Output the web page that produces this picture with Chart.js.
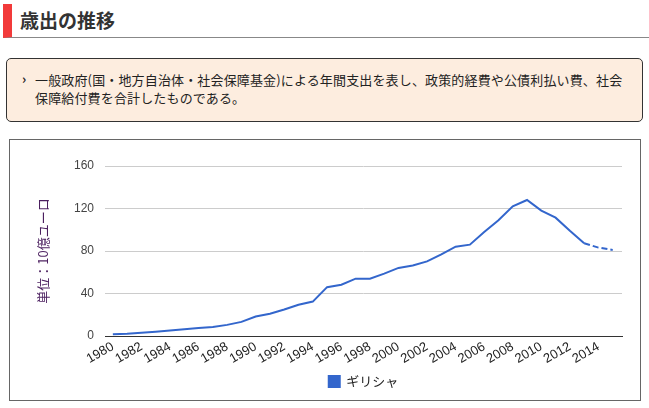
<!DOCTYPE html>
<html>
<head>
<meta charset="utf-8">
<script src="https://cdn.jsdelivr.net/npm/chart.js@4"></script>
<style>
body { margin: 0; background: #fff; font-family: "Noto Sans CJK JP", sans-serif; color: #333; }
.title { position: absolute; left: 3px; top: 4px; width: 646px; height: 34px; border-left: 9px solid #f23a3a; border-bottom: 1px solid #888; box-sizing: border-box; }
.title span { position: absolute; left: 8px; top: 2px; font-size: 19px; font-weight: bold; color: #333; }
.note { position: absolute; left: 6px; top: 58px; width: 637px; height: 64px; box-sizing: border-box; background: #fdeddf; border: 1px solid #333; border-radius: 5px; font-size: 13px; letter-spacing: 0.15px; white-space: nowrap; line-height: 18px; padding: 12px 4px 0 28px; color: #222; }
.note:before { content: "›"; position: absolute; left: 15px; top: 11px; font-weight: bold; font-size: 13px; }
.box { position: absolute; left: 9px; top: 139px; width: 632px; height: 262px; box-sizing: border-box; border: 1px solid #666; }
</style>
</head>
<body>
<div class="title"><span>歳出の推移</span></div>
<div class="note">一般政府(国・地方自治体・社会保障基金)による年間支出を表し、政策的経費や公債利払い費、社会<br>保障給付費を合計したものである。</div>
<div class="box"><canvas id="chart" width="630" height="260"></canvas></div>
<script>
var years = [1980, 1981, 1982, 1983, 1984, 1985, 1986, 1987, 1988, 1989,
	1990, 1991, 1992, 1993, 1994, 1995, 1996, 1997, 1998, 1999,
	2000, 2001, 2002, 2003, 2004, 2005, 2006, 2007, 2008, 2009,
	2010, 2011, 2012, 2013, 2014, 2015];
var spending = [1.6, 2.2, 3.2, 4.1, 5.1, 6.3, 7.6, 8.6, 10.5, 13.3,
	18.4, 21, 25, 29.5, 32.4, 46, 48.3, 54, 54, 58.7,
	64.1, 66.3, 70.2, 76.8, 84.1, 86, 98, 109, 122, 128,
	118, 111.4, 99, 87.3, 83.2, 81];
var yTicks = [0, 40, 80, 120, 160];
var xTicks = [1980, 1982, 1984, 1986, 1988, 1990, 1992, 1994, 1996, 1998,
	2000, 2002, 2004, 2006, 2008, 2010, 2012, 2014];
var estimateFrom = 2013;

var ctx = document.getElementById('chart').getContext('2d');
var chart = new Chart(ctx, {
	type: 'line',
	data: {
		datasets: [{
			label: 'ギリシャ',
			data: years.map(function (y, i) { return { x: y, y: spending[i] }; }),
			borderColor: '#3366cc',
			backgroundColor: '#3366cc',
			borderWidth: 2,
			pointRadius: 0,
			tension: 0,
			segment: {
				// estimates drawn dashed
				borderDash: function (c) { return c.p0.parsed.x >= estimateFrom ? [6, 3] : undefined; }
			}
		}]
	},
	options: {
		responsive: false,
		animation: false,
		layout: { padding: { top: 26, right: 18, left: 25, bottom: 2 } },
		font: { family: '"Noto Sans CJK JP", sans-serif' },
		scales: {
			x: {
				type: 'linear',
				min: 1979.45,
				max: 2015.65,
				afterBuildTicks: function (axis) {
					axis.ticks = xTicks.map(function (v) { return { value: v }; });
				},
				grid: { display: false, drawTicks: false },
				border: { color: '#333', width: 1 },
				ticks: {
					color: '#222',
					font: { size: 13, family: 'Arial, "Liberation Sans", sans-serif' },
					minRotation: 30,
					maxRotation: 30,
					autoSkip: false,
					padding: 3,
					callback: function (v) { return String(v); }
				}
			},
			y: {
				min: 0,
				max: 160,
				afterBuildTicks: function (axis) {
					axis.ticks = yTicks.map(function (v) { return { value: v }; });
				},
				afterFit: function (axis) { axis.width = 70; },
				grid: { color: '#cccccc', drawTicks: false },
				border: { display: false },
				ticks: {
					color: '#444',
					padding: 11,
					font: { size: 12, family: 'Arial, "Liberation Sans", sans-serif' }
				},
				title: {
					display: true,
					text: '単位：10億ユーロ',
					color: '#4b1f5f',
					font: { size: 13, family: '"Noto Sans CJK JP", sans-serif' },
					padding: { top: 0, bottom: 0 }
				}
			}
		},
		plugins: {
			legend: {
				position: 'bottom',
				fullSize: false,
				labels: {
					boxWidth: 11,
					boxHeight: 11,
					color: '#222',
					padding: 5,
					font: { size: 13, family: '"Noto Sans CJK JP", sans-serif' }
				}
			},
			tooltip: { enabled: false }
		}
	}
});
</script>
</body>
</html>
